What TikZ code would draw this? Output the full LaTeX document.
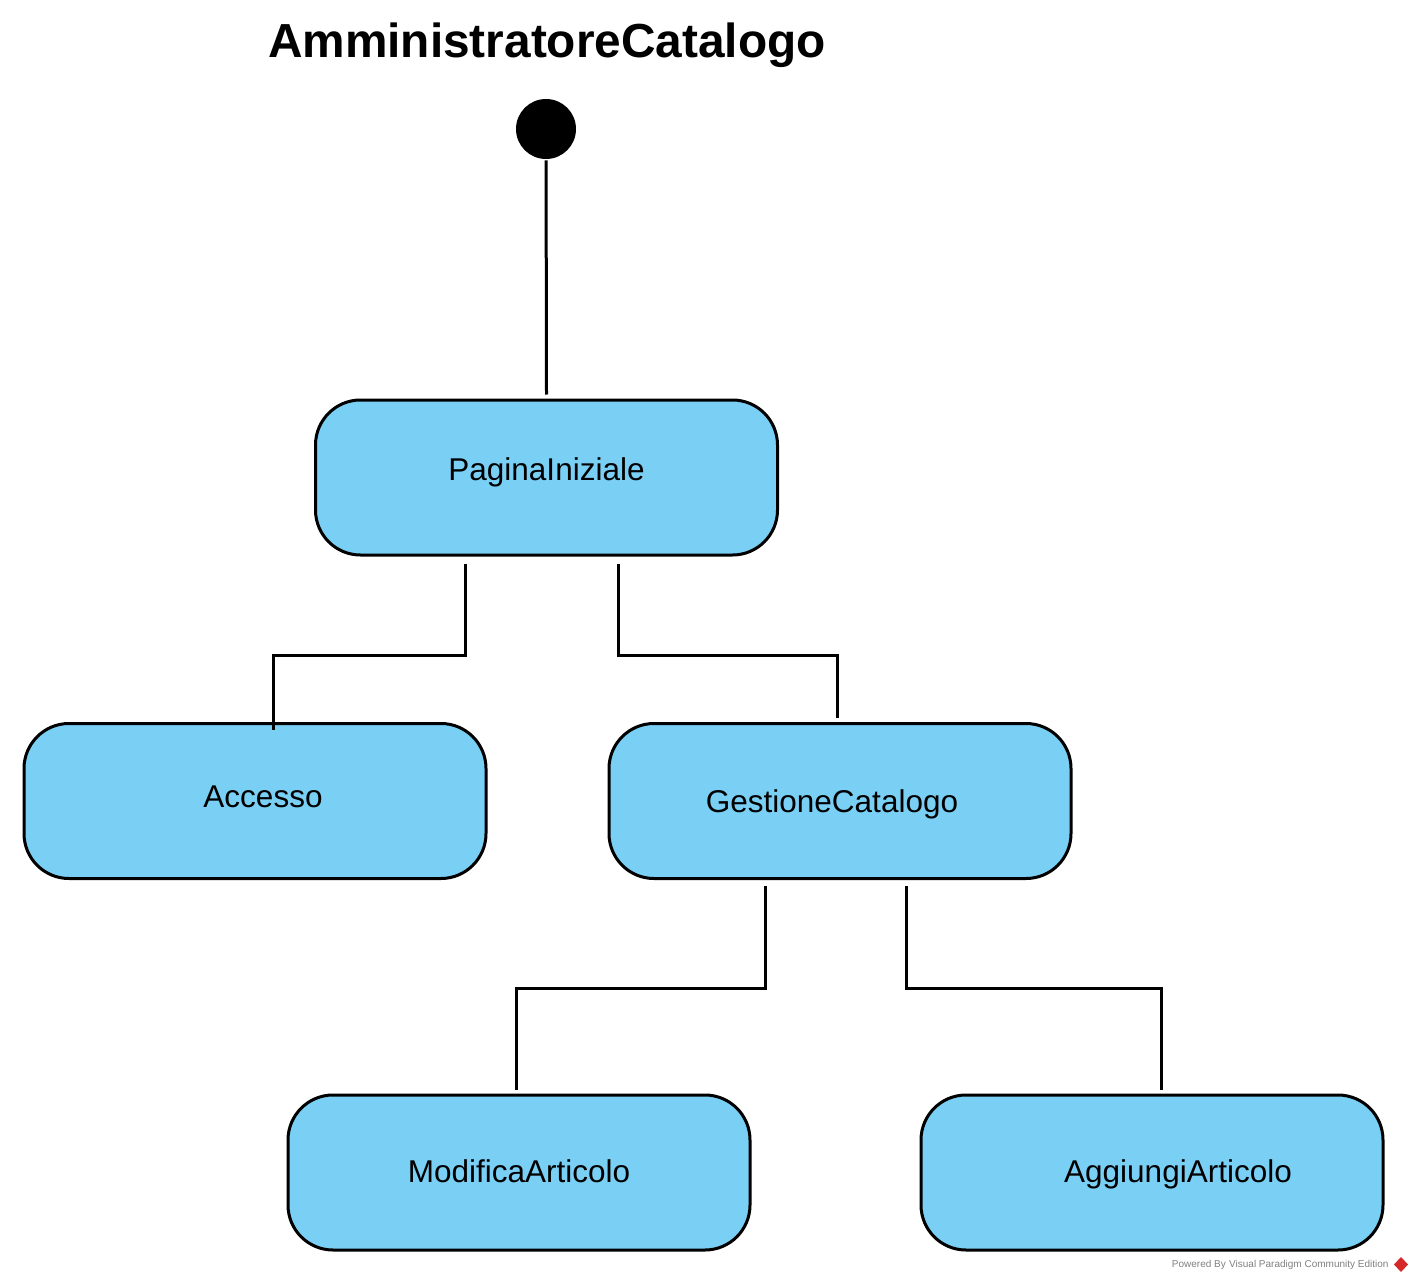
\documentclass[tikz,border=0pt]{standalone}
\usepackage{fontspec}
\setmainfont{Liberation Sans}
\usetikzlibrary{positioning}
\definecolor{stateblue}{RGB}{122,207,245}
\definecolor{vpred}{RGB}{214,40,40}

\begin{document}
\begin{tikzpicture}[x=1pt, y=-1pt, line width=3pt,
    state/.style={draw, fill=stateblue, rounded corners=45pt, minimum width=462pt, minimum height=155pt, inner sep=0pt},
    lbl/.style={font=\fontsize{31.5}{36}\selectfont, inner sep=0pt}]
            \useasboundingbox (0,0) rectangle (1413,1281);

            % Title
            \node[font=\bfseries\fontsize{47.8}{54}\selectfont, inner sep=0pt] (title) at (547, 45) {AmministratoreCatalogo};

            % Initial state
            \node[circle, fill=black, minimum size=60pt, inner sep=0pt] (start) at (546, 129) {};

            % Draw the states
            \node[state] (pagina) at (546.5, 477.5) {};
            \node[lbl] at ([yshift=5pt]pagina.center) {PaginaIniziale};

            \node[state] (accesso) at (255, 801) {};
            \node[lbl] at ([xshift=8pt, yshift=4pt]accesso.center) {Accesso};

            \node[state] (gestione) at (840, 801) {};
            \node[lbl] at ([xshift=-8pt, yshift=-3pt]gestione.center) {GestioneCatalogo};

            \node[state] (modifica) at (519, 1172.5) {};
            \node[lbl] at ([yshift=1pt]modifica.center) {ModificaArticolo};

            \node[state] (aggiungi) at (1152, 1172.5) {};
            \node[lbl] at ([xshift=26pt, yshift=-2pt]aggiungi.center) {AggiungiArticolo};

            % Draw the transitions
            \draw (start) -- ([yshift=4pt]pagina.north);

            \draw ([xshift=-81.5pt, yshift=-7pt]pagina.south) -- ++(0,92) -| ([xshift=18pt, yshift=-8pt]accesso.north);
            \draw ([xshift=71.5pt, yshift=-7pt]pagina.south) -- ++(0,92) -| ([xshift=-3pt, yshift=4pt]gestione.north);

            \draw ([xshift=-75pt, yshift=-6pt]gestione.south) -- ++(0,102) -| ([xshift=-3pt, yshift=4pt]modifica.north);
            \draw ([xshift=66pt, yshift=-6pt]gestione.south) -- ++(0,102) -| ([xshift=9pt, yshift=4pt]aggiungi.north);

            % Watermark
            \node[anchor=east, text=gray, font=\fontsize{10}{12}\selectfont, inner sep=0pt] (vp) at (1390, 1265) {Powered By\,\,Visual Paradigm Community Edition};
            \fill[vpred] (1401, 1257) -- (1408, 1264.5) -- (1401, 1272) -- (1394, 1264.5) -- cycle;
\end{tikzpicture}
\end{document}
